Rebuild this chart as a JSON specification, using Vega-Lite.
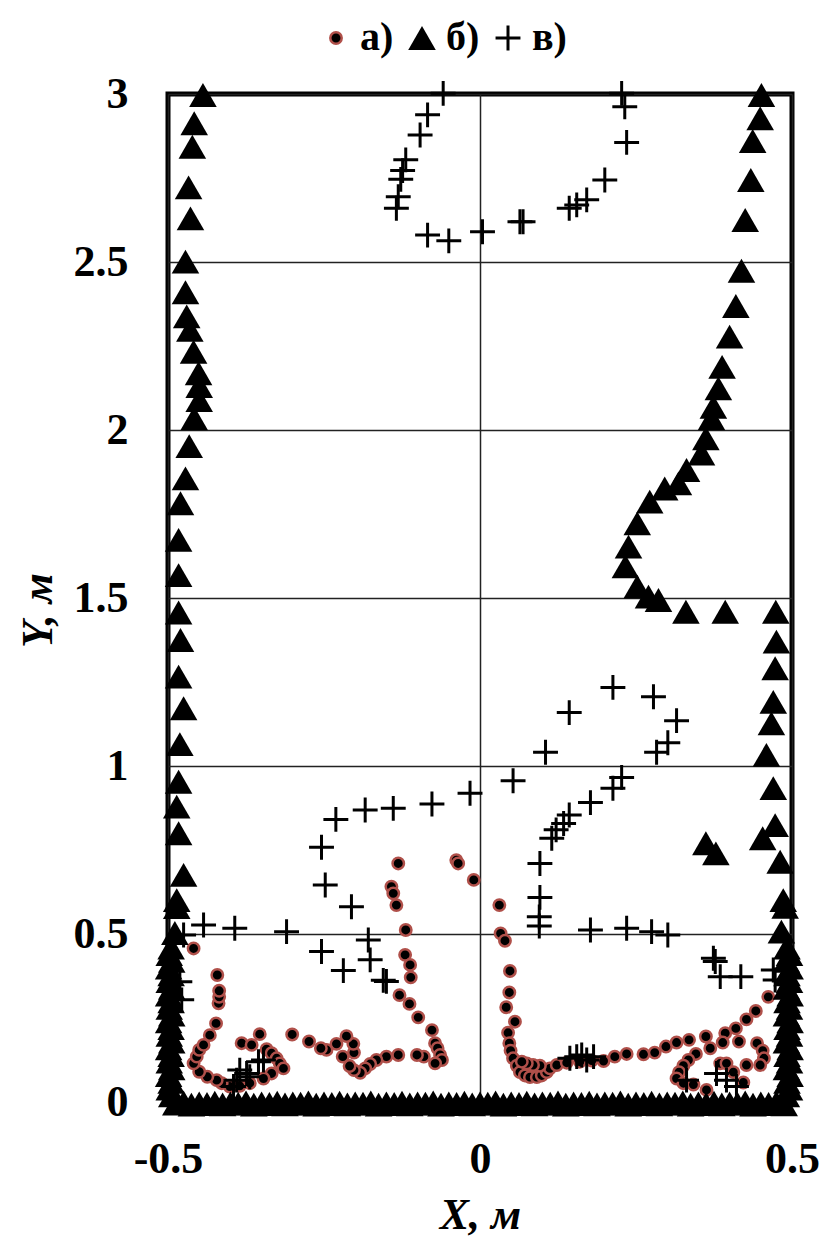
{
  "$schema": "https://vega.github.io/schema/vega-lite/v6.json",
  "width": 624,
  "height": 1008,
  "autosize": {"type": "none"},
  "padding": {"left": 168, "top": 94, "right": 33, "bottom": 141},
  "background": "white",
  "config": {
    "font": "Liberation Serif",
    "view": {"stroke": "black", "strokeWidth": 5},
    "axis": {
      "labelFont": "Liberation Serif",
      "labelFontSize": 44,
      "labelFontWeight": "bold",
      "labelColor": "black",
      "labelFlush": false,
      "labelOverlap": false,
      "titleFont": "Liberation Serif",
      "titleFontSize": 44,
      "titleFontWeight": "bold",
      "titleFontStyle": "italic",
      "titleColor": "black",
      "domain": false,
      "ticks": false,
      "tickSize": 0,
      "grid": true,
      "gridColor": "#222222",
      "gridWidth": 1.5
    },
    "legend": {
      "orient": "none",
      "legendX": 148,
      "legendY": -76,
      "direction": "horizontal",
      "labelFont": "Liberation Serif",
      "labelFontSize": 40,
      "labelFontWeight": "bold",
      "labelColor": "black",
      "labelOffset": 4,
      "columnPadding": 8,
      "padding": 0
    }
  },
  "data": {
    "values": [
      {"s": "а)", "x": -0.131, "y": 0.710},
      {"s": "а)", "x": -0.038, "y": 0.720},
      {"s": "а)", "x": -0.035, "y": 0.710},
      {"s": "а)", "x": -0.010, "y": 0.661},
      {"s": "а)", "x": -0.142, "y": 0.641},
      {"s": "а)", "x": -0.139, "y": 0.621},
      {"s": "а)", "x": -0.134, "y": 0.586},
      {"s": "а)", "x": -0.119, "y": 0.512},
      {"s": "а)", "x": -0.120, "y": 0.438},
      {"s": "а)", "x": -0.112, "y": 0.408},
      {"s": "а)", "x": -0.111, "y": 0.371},
      {"s": "а)", "x": -0.129, "y": 0.318},
      {"s": "а)", "x": -0.113, "y": 0.292},
      {"s": "а)", "x": -0.099, "y": 0.252},
      {"s": "а)", "x": -0.077, "y": 0.214},
      {"s": "а)", "x": -0.072, "y": 0.175},
      {"s": "а)", "x": -0.068, "y": 0.160},
      {"s": "а)", "x": -0.064, "y": 0.140},
      {"s": "а)", "x": -0.061, "y": 0.125},
      {"s": "а)", "x": -0.072, "y": 0.115},
      {"s": "а)", "x": -0.090, "y": 0.135},
      {"s": "а)", "x": -0.101, "y": 0.140},
      {"s": "а)", "x": -0.131, "y": 0.140},
      {"s": "а)", "x": -0.150, "y": 0.135},
      {"s": "а)", "x": -0.166, "y": 0.125},
      {"s": "а)", "x": -0.176, "y": 0.113},
      {"s": "а)", "x": -0.184, "y": 0.100},
      {"s": "а)", "x": -0.192, "y": 0.087},
      {"s": "а)", "x": -0.202, "y": 0.095},
      {"s": "а)", "x": -0.209, "y": 0.107},
      {"s": "а)", "x": -0.220, "y": 0.135},
      {"s": "а)", "x": -0.202, "y": 0.147},
      {"s": "а)", "x": -0.203, "y": 0.173},
      {"s": "а)", "x": -0.214, "y": 0.196},
      {"s": "а)", "x": -0.230, "y": 0.173},
      {"s": "а)", "x": -0.246, "y": 0.155},
      {"s": "а)", "x": -0.255, "y": 0.160},
      {"s": "а)", "x": -0.274, "y": 0.180},
      {"s": "а)", "x": -0.301, "y": 0.201},
      {"s": "а)", "x": -0.353, "y": 0.202},
      {"s": "а)", "x": -0.382, "y": 0.175},
      {"s": "а)", "x": -0.366, "y": 0.170},
      {"s": "а)", "x": -0.342, "y": 0.157},
      {"s": "а)", "x": -0.334, "y": 0.145},
      {"s": "а)", "x": -0.326, "y": 0.130},
      {"s": "а)", "x": -0.321, "y": 0.115},
      {"s": "а)", "x": -0.315, "y": 0.100},
      {"s": "а)", "x": -0.334, "y": 0.085},
      {"s": "а)", "x": -0.347, "y": 0.070},
      {"s": "а)", "x": -0.369, "y": 0.056},
      {"s": "а)", "x": -0.385, "y": 0.048},
      {"s": "а)", "x": -0.401, "y": 0.046},
      {"s": "а)", "x": -0.414, "y": 0.056},
      {"s": "а)", "x": -0.422, "y": 0.065},
      {"s": "а)", "x": -0.437, "y": 0.075},
      {"s": "а)", "x": -0.450, "y": 0.090},
      {"s": "а)", "x": -0.459, "y": 0.115},
      {"s": "а)", "x": -0.454, "y": 0.135},
      {"s": "а)", "x": -0.450, "y": 0.155},
      {"s": "а)", "x": -0.443, "y": 0.170},
      {"s": "а)", "x": -0.433, "y": 0.199},
      {"s": "а)", "x": -0.423, "y": 0.234},
      {"s": "а)", "x": -0.419, "y": 0.294},
      {"s": "а)", "x": -0.418, "y": 0.313},
      {"s": "а)", "x": -0.418, "y": 0.331},
      {"s": "а)", "x": -0.421, "y": 0.378},
      {"s": "а)", "x": -0.459, "y": 0.457},
      {"s": "а)", "x": 0.031, "y": 0.586},
      {"s": "а)", "x": 0.033, "y": 0.502},
      {"s": "а)", "x": 0.040, "y": 0.480},
      {"s": "а)", "x": 0.048, "y": 0.390},
      {"s": "а)", "x": 0.047, "y": 0.326},
      {"s": "а)", "x": 0.042, "y": 0.282},
      {"s": "а)", "x": 0.056, "y": 0.239},
      {"s": "а)", "x": 0.045, "y": 0.206},
      {"s": "а)", "x": 0.047, "y": 0.175},
      {"s": "а)", "x": 0.049, "y": 0.153},
      {"s": "а)", "x": 0.053, "y": 0.130},
      {"s": "а)", "x": 0.059, "y": 0.108},
      {"s": "а)", "x": 0.064, "y": 0.089},
      {"s": "а)", "x": 0.072, "y": 0.079},
      {"s": "а)", "x": 0.080, "y": 0.074},
      {"s": "а)", "x": 0.091, "y": 0.074},
      {"s": "а)", "x": 0.099, "y": 0.079},
      {"s": "а)", "x": 0.107, "y": 0.089},
      {"s": "а)", "x": 0.112, "y": 0.100},
      {"s": "а)", "x": 0.096, "y": 0.108},
      {"s": "а)", "x": 0.085, "y": 0.110},
      {"s": "а)", "x": 0.075, "y": 0.115},
      {"s": "а)", "x": 0.067, "y": 0.120},
      {"s": "а)", "x": 0.123, "y": 0.110},
      {"s": "а)", "x": 0.139, "y": 0.117},
      {"s": "а)", "x": 0.160, "y": 0.120},
      {"s": "а)", "x": 0.179, "y": 0.123},
      {"s": "а)", "x": 0.198, "y": 0.122},
      {"s": "а)", "x": 0.216, "y": 0.135},
      {"s": "а)", "x": 0.235, "y": 0.143},
      {"s": "а)", "x": 0.262, "y": 0.142},
      {"s": "а)", "x": 0.280, "y": 0.147},
      {"s": "а)", "x": 0.298, "y": 0.165},
      {"s": "а)", "x": 0.315, "y": 0.177},
      {"s": "а)", "x": 0.335, "y": 0.185},
      {"s": "а)", "x": 0.362, "y": 0.195},
      {"s": "а)", "x": 0.393, "y": 0.205},
      {"s": "а)", "x": 0.410, "y": 0.219},
      {"s": "а)", "x": 0.427, "y": 0.246},
      {"s": "а)", "x": 0.442, "y": 0.271},
      {"s": "а)", "x": 0.462, "y": 0.313},
      {"s": "а)", "x": 0.346, "y": 0.143},
      {"s": "а)", "x": 0.369, "y": 0.160},
      {"s": "а)", "x": 0.389, "y": 0.177},
      {"s": "а)", "x": 0.415, "y": 0.180},
      {"s": "а)", "x": 0.444, "y": 0.175},
      {"s": "а)", "x": 0.453, "y": 0.153},
      {"s": "а)", "x": 0.455, "y": 0.130},
      {"s": "а)", "x": 0.449, "y": 0.110},
      {"s": "а)", "x": 0.427, "y": 0.110},
      {"s": "а)", "x": 0.334, "y": 0.125},
      {"s": "а)", "x": 0.326, "y": 0.108},
      {"s": "а)", "x": 0.319, "y": 0.089},
      {"s": "а)", "x": 0.315, "y": 0.070},
      {"s": "а)", "x": 0.326, "y": 0.056},
      {"s": "а)", "x": 0.342, "y": 0.052},
      {"s": "а)", "x": 0.363, "y": 0.036},
      {"s": "а)", "x": 0.385, "y": 0.115},
      {"s": "а)", "x": 0.395, "y": 0.115},
      {"s": "а)", "x": 0.406, "y": 0.089},
      {"s": "а)", "x": 0.422, "y": 0.058},

      {"s": "б)", "x": -0.444, "y": 2.997},
      {"s": "б)", "x": -0.458, "y": 2.913},
      {"s": "б)", "x": -0.461, "y": 2.843},
      {"s": "б)", "x": -0.467, "y": 2.722},
      {"s": "б)", "x": -0.464, "y": 2.630},
      {"s": "б)", "x": -0.472, "y": 2.501},
      {"s": "б)", "x": -0.472, "y": 2.410},
      {"s": "б)", "x": -0.470, "y": 2.338},
      {"s": "б)", "x": -0.465, "y": 2.298},
      {"s": "б)", "x": -0.459, "y": 2.233},
      {"s": "б)", "x": -0.451, "y": 2.169},
      {"s": "б)", "x": -0.450, "y": 2.131},
      {"s": "б)", "x": -0.450, "y": 2.089},
      {"s": "б)", "x": -0.458, "y": 2.035},
      {"s": "б)", "x": -0.466, "y": 1.952},
      {"s": "б)", "x": -0.472, "y": 1.856},
      {"s": "б)", "x": -0.480, "y": 1.782},
      {"s": "б)", "x": -0.483, "y": 1.673},
      {"s": "б)", "x": -0.483, "y": 1.568},
      {"s": "б)", "x": -0.483, "y": 1.457},
      {"s": "б)", "x": -0.480, "y": 1.375},
      {"s": "б)", "x": -0.483, "y": 1.266},
      {"s": "б)", "x": -0.475, "y": 1.172},
      {"s": "б)", "x": -0.481, "y": 1.065},
      {"s": "б)", "x": -0.483, "y": 0.953},
      {"s": "б)", "x": -0.486, "y": 0.879},
      {"s": "б)", "x": -0.483, "y": 0.800},
      {"s": "б)", "x": -0.475, "y": 0.676},
      {"s": "б)", "x": -0.486, "y": 0.601},
      {"s": "б)", "x": -0.486, "y": 0.580},
      {"s": "б)", "x": -0.489, "y": 0.503},
      {"s": "б)", "x": -0.495, "y": 0.460},
      {"s": "б)", "x": -0.498, "y": 0.440},
      {"s": "б)", "x": -0.494, "y": 0.420},
      {"s": "б)", "x": -0.499, "y": 0.400},
      {"s": "б)", "x": -0.495, "y": 0.380},
      {"s": "б)", "x": -0.498, "y": 0.360},
      {"s": "б)", "x": -0.494, "y": 0.340},
      {"s": "б)", "x": -0.499, "y": 0.320},
      {"s": "б)", "x": -0.495, "y": 0.300},
      {"s": "б)", "x": -0.498, "y": 0.280},
      {"s": "б)", "x": -0.494, "y": 0.260},
      {"s": "б)", "x": -0.499, "y": 0.240},
      {"s": "б)", "x": -0.495, "y": 0.220},
      {"s": "б)", "x": -0.498, "y": 0.200},
      {"s": "б)", "x": -0.494, "y": 0.180},
      {"s": "б)", "x": -0.499, "y": 0.160},
      {"s": "б)", "x": -0.495, "y": 0.140},
      {"s": "б)", "x": -0.498, "y": 0.120},
      {"s": "б)", "x": -0.494, "y": 0.100},
      {"s": "б)", "x": -0.499, "y": 0.080},
      {"s": "б)", "x": -0.495, "y": 0.060},
      {"s": "б)", "x": -0.498, "y": 0.040},
      {"s": "б)", "x": -0.494, "y": 0.020},
      {"s": "б)", "x": 0.451, "y": 2.997},
      {"s": "б)", "x": 0.449, "y": 2.928},
      {"s": "б)", "x": 0.437, "y": 2.860},
      {"s": "б)", "x": 0.434, "y": 2.744},
      {"s": "б)", "x": 0.425, "y": 2.625},
      {"s": "б)", "x": 0.419, "y": 2.474},
      {"s": "б)", "x": 0.410, "y": 2.369},
      {"s": "б)", "x": 0.400, "y": 2.278},
      {"s": "б)", "x": 0.388, "y": 2.188},
      {"s": "б)", "x": 0.382, "y": 2.124},
      {"s": "б)", "x": 0.374, "y": 2.069},
      {"s": "б)", "x": 0.371, "y": 2.035},
      {"s": "б)", "x": 0.362, "y": 1.975},
      {"s": "б)", "x": 0.355, "y": 1.930},
      {"s": "б)", "x": 0.331, "y": 1.881},
      {"s": "б)", "x": 0.318, "y": 1.841},
      {"s": "б)", "x": 0.296, "y": 1.826},
      {"s": "б)", "x": 0.272, "y": 1.787},
      {"s": "б)", "x": 0.252, "y": 1.722},
      {"s": "б)", "x": 0.238, "y": 1.653},
      {"s": "б)", "x": 0.233, "y": 1.594},
      {"s": "б)", "x": 0.252, "y": 1.534},
      {"s": "б)", "x": 0.270, "y": 1.504},
      {"s": "б)", "x": 0.286, "y": 1.494},
      {"s": "б)", "x": 0.330, "y": 1.459},
      {"s": "б)", "x": 0.393, "y": 1.459},
      {"s": "б)", "x": 0.474, "y": 1.459},
      {"s": "б)", "x": 0.475, "y": 1.370},
      {"s": "б)", "x": 0.473, "y": 1.291},
      {"s": "б)", "x": 0.470, "y": 1.191},
      {"s": "б)", "x": 0.467, "y": 1.127},
      {"s": "б)", "x": 0.459, "y": 1.033},
      {"s": "б)", "x": 0.470, "y": 0.934},
      {"s": "б)", "x": 0.473, "y": 0.824},
      {"s": "б)", "x": 0.453, "y": 0.785},
      {"s": "б)", "x": 0.362, "y": 0.770},
      {"s": "б)", "x": 0.378, "y": 0.740},
      {"s": "б)", "x": 0.481, "y": 0.715},
      {"s": "б)", "x": 0.486, "y": 0.601},
      {"s": "б)", "x": 0.489, "y": 0.581},
      {"s": "б)", "x": 0.483, "y": 0.507},
      {"s": "б)", "x": 0.492, "y": 0.460},
      {"s": "б)", "x": 0.496, "y": 0.440},
      {"s": "б)", "x": 0.491, "y": 0.420},
      {"s": "б)", "x": 0.497, "y": 0.400},
      {"s": "б)", "x": 0.492, "y": 0.380},
      {"s": "б)", "x": 0.496, "y": 0.360},
      {"s": "б)", "x": 0.491, "y": 0.340},
      {"s": "б)", "x": 0.497, "y": 0.320},
      {"s": "б)", "x": 0.492, "y": 0.300},
      {"s": "б)", "x": 0.496, "y": 0.280},
      {"s": "б)", "x": 0.491, "y": 0.260},
      {"s": "б)", "x": 0.497, "y": 0.240},
      {"s": "б)", "x": 0.492, "y": 0.220},
      {"s": "б)", "x": 0.496, "y": 0.200},
      {"s": "б)", "x": 0.491, "y": 0.180},
      {"s": "б)", "x": 0.497, "y": 0.160},
      {"s": "б)", "x": 0.492, "y": 0.140},
      {"s": "б)", "x": 0.496, "y": 0.120},
      {"s": "б)", "x": 0.491, "y": 0.100},
      {"s": "б)", "x": 0.497, "y": 0.080},
      {"s": "б)", "x": 0.492, "y": 0.060},
      {"s": "б)", "x": 0.496, "y": 0.040},
      {"s": "б)", "x": 0.491, "y": 0.020},
      {"s": "б)", "x": -0.4875, "y": -0.005},
      {"s": "б)", "x": -0.475, "y": -0.001},
      {"s": "б)", "x": -0.4625, "y": -0.008},
      {"s": "б)", "x": -0.45, "y": -0.004},
      {"s": "б)", "x": -0.4375, "y": -0.006},
      {"s": "б)", "x": -0.425, "y": -0.002},
      {"s": "б)", "x": -0.4125, "y": -0.007},
      {"s": "б)", "x": -0.4, "y": -0.004},
      {"s": "б)", "x": -0.3875, "y": -0.005},
      {"s": "б)", "x": -0.375, "y": -0.001},
      {"s": "б)", "x": -0.3625, "y": -0.008},
      {"s": "б)", "x": -0.35, "y": -0.004},
      {"s": "б)", "x": -0.3375, "y": -0.006},
      {"s": "б)", "x": -0.325, "y": -0.002},
      {"s": "б)", "x": -0.3125, "y": -0.007},
      {"s": "б)", "x": -0.3, "y": -0.004},
      {"s": "б)", "x": -0.2875, "y": -0.005},
      {"s": "б)", "x": -0.275, "y": -0.001},
      {"s": "б)", "x": -0.2625, "y": -0.008},
      {"s": "б)", "x": -0.25, "y": -0.004},
      {"s": "б)", "x": -0.2375, "y": -0.006},
      {"s": "б)", "x": -0.225, "y": -0.002},
      {"s": "б)", "x": -0.2125, "y": -0.007},
      {"s": "б)", "x": -0.2, "y": -0.004},
      {"s": "б)", "x": -0.1875, "y": -0.005},
      {"s": "б)", "x": -0.175, "y": -0.001},
      {"s": "б)", "x": -0.1625, "y": -0.008},
      {"s": "б)", "x": -0.15, "y": -0.004},
      {"s": "б)", "x": -0.1375, "y": -0.006},
      {"s": "б)", "x": -0.125, "y": -0.002},
      {"s": "б)", "x": -0.1125, "y": -0.007},
      {"s": "б)", "x": -0.1, "y": -0.004},
      {"s": "б)", "x": -0.0875, "y": -0.005},
      {"s": "б)", "x": -0.075, "y": -0.001},
      {"s": "б)", "x": -0.0625, "y": -0.008},
      {"s": "б)", "x": -0.05, "y": -0.004},
      {"s": "б)", "x": -0.0375, "y": -0.006},
      {"s": "б)", "x": -0.025, "y": -0.002},
      {"s": "б)", "x": -0.0125, "y": -0.007},
      {"s": "б)", "x": 0, "y": -0.004},
      {"s": "б)", "x": 0.0125, "y": -0.005},
      {"s": "б)", "x": 0.025, "y": -0.001},
      {"s": "б)", "x": 0.0375, "y": -0.008},
      {"s": "б)", "x": 0.05, "y": -0.004},
      {"s": "б)", "x": 0.0625, "y": -0.006},
      {"s": "б)", "x": 0.075, "y": -0.002},
      {"s": "б)", "x": 0.0875, "y": -0.007},
      {"s": "б)", "x": 0.1, "y": -0.004},
      {"s": "б)", "x": 0.1125, "y": -0.005},
      {"s": "б)", "x": 0.125, "y": -0.001},
      {"s": "б)", "x": 0.1375, "y": -0.008},
      {"s": "б)", "x": 0.15, "y": -0.004},
      {"s": "б)", "x": 0.1625, "y": -0.006},
      {"s": "б)", "x": 0.175, "y": -0.002},
      {"s": "б)", "x": 0.1875, "y": -0.007},
      {"s": "б)", "x": 0.2, "y": -0.004},
      {"s": "б)", "x": 0.2125, "y": -0.005},
      {"s": "б)", "x": 0.225, "y": -0.001},
      {"s": "б)", "x": 0.2375, "y": -0.008},
      {"s": "б)", "x": 0.25, "y": -0.004},
      {"s": "б)", "x": 0.2625, "y": -0.006},
      {"s": "б)", "x": 0.275, "y": -0.002},
      {"s": "б)", "x": 0.2875, "y": -0.007},
      {"s": "б)", "x": 0.3, "y": -0.004},
      {"s": "б)", "x": 0.3125, "y": -0.005},
      {"s": "б)", "x": 0.325, "y": -0.001},
      {"s": "б)", "x": 0.3375, "y": -0.008},
      {"s": "б)", "x": 0.35, "y": -0.004},
      {"s": "б)", "x": 0.3625, "y": -0.006},
      {"s": "б)", "x": 0.375, "y": -0.002},
      {"s": "б)", "x": 0.3875, "y": -0.007},
      {"s": "б)", "x": 0.4, "y": -0.004},
      {"s": "б)", "x": 0.4125, "y": -0.005},
      {"s": "б)", "x": 0.425, "y": -0.001},
      {"s": "б)", "x": 0.4375, "y": -0.008},
      {"s": "б)", "x": 0.45, "y": -0.004},
      {"s": "б)", "x": 0.4625, "y": -0.006},
      {"s": "б)", "x": 0.475, "y": -0.002},
      {"s": "б)", "x": 0.4875, "y": -0.007},

      {"s": "в)", "x": -0.059, "y": 3.002},
      {"s": "в)", "x": -0.084, "y": 2.938},
      {"s": "в)", "x": -0.096, "y": 2.878},
      {"s": "в)", "x": -0.119, "y": 2.804},
      {"s": "в)", "x": -0.124, "y": 2.772},
      {"s": "в)", "x": -0.127, "y": 2.746},
      {"s": "в)", "x": -0.131, "y": 2.694},
      {"s": "в)", "x": -0.134, "y": 2.660},
      {"s": "в)", "x": -0.084, "y": 2.580},
      {"s": "в)", "x": -0.050, "y": 2.563},
      {"s": "в)", "x": 0.004, "y": 2.590},
      {"s": "в)", "x": 0.064, "y": 2.620},
      {"s": "в)", "x": 0.069, "y": 2.620},
      {"s": "в)", "x": 0.143, "y": 2.660},
      {"s": "в)", "x": 0.155, "y": 2.670},
      {"s": "в)", "x": 0.171, "y": 2.685},
      {"s": "в)", "x": 0.200, "y": 2.744},
      {"s": "в)", "x": 0.235, "y": 2.856},
      {"s": "в)", "x": 0.232, "y": 2.962},
      {"s": "в)", "x": 0.227, "y": 3.002},
      {"s": "в)", "x": 0.213, "y": 1.234},
      {"s": "в)", "x": 0.278, "y": 1.206},
      {"s": "в)", "x": 0.315, "y": 1.135},
      {"s": "в)", "x": 0.143, "y": 1.159},
      {"s": "в)", "x": 0.301, "y": 1.069},
      {"s": "в)", "x": 0.283, "y": 1.041},
      {"s": "в)", "x": 0.105, "y": 1.041},
      {"s": "в)", "x": 0.053, "y": 0.956},
      {"s": "в)", "x": 0.227, "y": 0.966},
      {"s": "в)", "x": 0.213, "y": 0.934},
      {"s": "в)", "x": 0.177, "y": 0.891},
      {"s": "в)", "x": 0.143, "y": 0.854},
      {"s": "в)", "x": 0.134, "y": 0.829},
      {"s": "в)", "x": 0.122, "y": 0.810},
      {"s": "в)", "x": 0.115, "y": 0.785},
      {"s": "в)", "x": 0.096, "y": 0.710},
      {"s": "в)", "x": 0.096, "y": 0.609},
      {"s": "в)", "x": 0.095, "y": 0.551},
      {"s": "в)", "x": 0.095, "y": 0.524},
      {"s": "в)", "x": 0.177, "y": 0.512},
      {"s": "в)", "x": 0.235, "y": 0.517},
      {"s": "в)", "x": 0.275, "y": 0.507},
      {"s": "в)", "x": 0.301, "y": 0.497},
      {"s": "в)", "x": 0.374, "y": 0.428},
      {"s": "в)", "x": 0.377, "y": 0.418},
      {"s": "в)", "x": 0.385, "y": 0.373},
      {"s": "в)", "x": 0.418, "y": 0.373},
      {"s": "в)", "x": 0.470, "y": 0.393},
      {"s": "в)", "x": 0.473, "y": 0.363},
      {"s": "в)", "x": 0.144, "y": 0.130},
      {"s": "в)", "x": 0.155, "y": 0.135},
      {"s": "в)", "x": 0.163, "y": 0.140},
      {"s": "в)", "x": 0.171, "y": 0.125},
      {"s": "в)", "x": 0.182, "y": 0.135},
      {"s": "в)", "x": 0.331, "y": 0.065},
      {"s": "в)", "x": 0.379, "y": 0.085},
      {"s": "в)", "x": 0.395, "y": 0.065},
      {"s": "в)", "x": 0.411, "y": 0.046},
      {"s": "в)", "x": -0.016, "y": 0.919},
      {"s": "в)", "x": -0.077, "y": 0.887},
      {"s": "в)", "x": -0.139, "y": 0.874},
      {"s": "в)", "x": -0.184, "y": 0.869},
      {"s": "в)", "x": -0.231, "y": 0.841},
      {"s": "в)", "x": -0.254, "y": 0.758},
      {"s": "в)", "x": -0.248, "y": 0.646},
      {"s": "в)", "x": -0.206, "y": 0.581},
      {"s": "в)", "x": -0.443, "y": 0.527},
      {"s": "в)", "x": -0.393, "y": 0.517},
      {"s": "в)", "x": -0.310, "y": 0.507},
      {"s": "в)", "x": -0.475, "y": 0.497},
      {"s": "в)", "x": -0.254, "y": 0.448},
      {"s": "в)", "x": -0.179, "y": 0.482},
      {"s": "в)", "x": -0.176, "y": 0.423},
      {"s": "в)", "x": -0.219, "y": 0.391},
      {"s": "в)", "x": -0.150, "y": 0.359},
      {"s": "в)", "x": -0.155, "y": 0.362},
      {"s": "в)", "x": -0.347, "y": 0.125},
      {"s": "в)", "x": -0.355, "y": 0.120},
      {"s": "в)", "x": -0.374, "y": 0.085},
      {"s": "в)", "x": -0.390, "y": 0.065},
      {"s": "в)", "x": -0.385, "y": 0.095},
      {"s": "в)", "x": -0.369, "y": 0.075},
      {"s": "в)", "x": -0.395, "y": 0.046},
      {"s": "в)", "x": -0.481, "y": 0.358},
      {"s": "в)", "x": -0.478, "y": 0.304}
    ]
  },
  "mark": {"type": "point", "filled": true, "opacity": 1},
  "encoding": {
    "x": {
      "field": "x",
      "type": "quantitative",
      "scale": {"domain": [-0.5, 0.5], "nice": false, "zero": false},
      "axis": {
        "values": [-0.5, 0, 0.5],
        "labelExpr": "datum.value < 0 ? '-' + format(-datum.value, '~g') : format(datum.value, '~g')",
        "labelPadding": 35,
        "title": "X, м",
        "titleX": 312,
        "titleY": 113,
        "titleAlign": "center",
        "titleBaseline": "middle"
      }
    },
    "y": {
      "field": "y",
      "type": "quantitative",
      "scale": {"domain": [0, 3], "nice": false, "zero": false},
      "axis": {
        "values": [0, 0.5, 1, 1.5, 2, 2.5, 3],
        "format": "~g",
        "labelPadding": 40,
        "title": "Y, м",
        "titleX": -130,
        "titleY": 516,
        "titleAngle": -90,
        "titleAlign": "center",
        "titleBaseline": "middle"
      }
    },
    "shape": {
      "field": "s",
      "type": "nominal",
      "title": null,
      "scale": {"domain": ["а)", "б)", "в)"], "range": ["circle", "triangle-up", "M-1,0H1M0,-1V1"]}
    },
    "fill": {
      "field": "s",
      "type": "nominal",
      "title": null,
      "scale": {"domain": ["а)", "б)", "в)"], "range": ["#000000", "#000000", "transparent"]}
    },
    "stroke": {
      "field": "s",
      "type": "nominal",
      "title": null,
      "scale": {"domain": ["а)", "б)", "в)"], "range": ["#b0504a", "#000000", "#000000"]}
    },
    "size": {
      "field": "s",
      "type": "nominal",
      "title": null,
      "scale": {"type": "ordinal", "domain": ["а)", "б)", "в)"], "range": [130, 760, 620]}
    },
    "strokeWidth": {
      "field": "s",
      "type": "nominal",
      "title": null,
      "scale": {"type": "ordinal", "domain": ["а)", "б)", "в)"], "range": [2.5, 0, 3]}
    }
  }
}
